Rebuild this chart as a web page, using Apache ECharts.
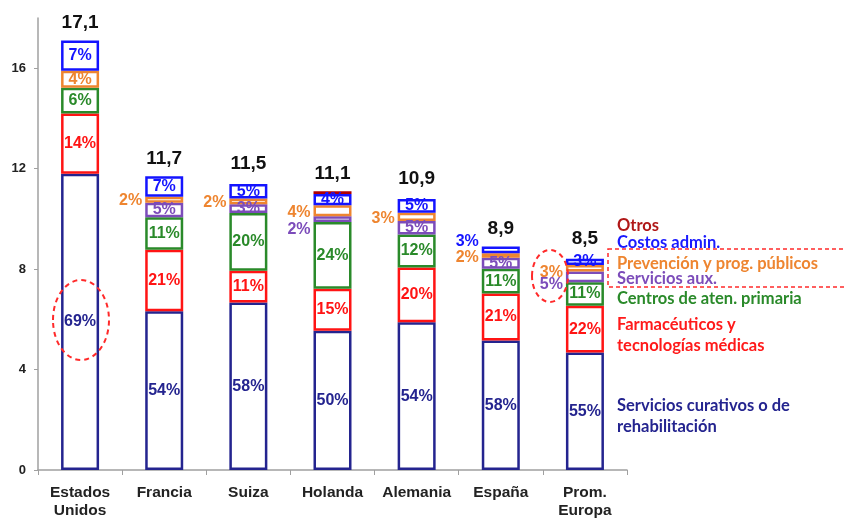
<!DOCTYPE html>
<html>
<head>
<meta charset="utf-8">
<script src="https://cdn.jsdelivr.net/npm/echarts@6/dist/echarts.min.js"></script>
<style>
  html, body { margin: 0; padding: 0; background: #ffffff; }
  #chart { width: 846px; height: 518px; }
</style>
</head>
<body>
<div id="chart"></div>
<script>
// Health spending per country (total) and its breakdown by function (% of total)
const categories = ['Estados\nUnidos', 'Francia', 'Suiza', 'Holanda', 'Alemania', 'España', 'Prom.\nEuropa'];
const totals = [17.1, 11.7, 11.5, 11.1, 10.9, 8.9, 8.5];

const curativos        = [69, 54, 58, 50, 54, 58, 55];
const farmaceuticos    = [14, 21, 11, 15, 20, 21, 22];
const atencionPrimaria = [6, 11, 20, 24, 12, 11, 11];
const serviciosAux     = [null, 5, 3, 2, 5, 5, 5];
const prevencion       = [4, 2, 2, 4, 3, 2, 3];
const costosAdmin      = [7, 7, 5, 4, 5, 3, 3];
const otros            = [null, null, null, 1, null, null, null];

const yTicks = [0, 4, 8, 12, 16];

const FONT = '"Liberation Sans", Arial, sans-serif';
const NOTE_FONT = 'Lato, "Open Sans", sans-serif';

// Segment definitions (stack order bottom -> top)
const segments = [
  { name: 'Servicios curativos o de rehabilitación', pct: curativos,        color: '#24248f' },
  { name: 'Farmacéuticos y tecnologías médicas',     pct: farmaceuticos,    color: '#ff1414' },
  { name: 'Centros de aten. primaria',               pct: atencionPrimaria, color: '#2a8a2a' },
  { name: 'Servicios aux.',                          pct: serviciosAux,     color: '#7c4cba' },
  { name: 'Prevención y prog. públicos',             pct: prevencion,       color: '#ee8530' },
  { name: 'Costos admin.',                           pct: costosAdmin,      color: '#1414ff' },
  { name: 'Otros',                                   pct: otros,            color: '#b00000' }
];

// Labels of thin segments that sit beside the bar: [segment index, category index, vertical offset]
const sideLabels = [
  [4, 1, 1], [4, 2, 1], [4, 3, 2], [4, 4, 2], [4, 5, 2], [4, 6, 4],
  [3, 3, 10], [3, 6, 8],
  [5, 5, -8]
];
const hiddenLabels = [[6, 3]];

function labelFor(si, ci) {
  if (hiddenLabels.some(h => h[0] === si && h[1] === ci)) return { show: false };
  const side = sideLabels.find(s => s[0] === si && s[1] === ci);
  if (side) return { position: 'left', distance: 3, offset: [0, side[2]] };
  return null;
}

const BAR_W = 38;

const series = segments.map((seg, si) => ({
  name: seg.name,
  type: 'bar',
  stack: 'gasto',
  barWidth: BAR_W,
  data: seg.pct.map((p, ci) => {
    if (p === null) return '-';
    const item = { value: +(totals[ci] * p / 100).toFixed(4), pct: p };
    const l = labelFor(si, ci);
    if (l) item.label = l;
    return item;
  }),
  itemStyle: { color: '#ffffff', borderColor: seg.color, borderWidth: 2.5 },
  label: {
    show: true,
    position: 'inside',
    color: seg.color,
    fontFamily: FONT,
    fontWeight: 'bold',
    fontSize: 16,
    formatter: p => p.data.pct + '%'
  },
  emphasis: { disabled: true }
}));

// Totals written above each bar
series.push({
  name: 'Total',
  type: 'bar',
  barWidth: BAR_W,
  barGap: '-100%',
  silent: true,
  z: 1,
  data: totals,
  itemStyle: { color: 'rgba(0,0,0,0)' },
  label: {
    show: true,
    position: 'top',
    distance: 8,
    color: '#111111',
    fontFamily: FONT,
    fontWeight: 'bold',
    fontSize: 19,
    formatter: p => p.value.toFixed(1).replace('.', ',')
  }
});

// Notes naming each segment, to the right of the plot
const notes = [
  { lines: ['Otros'], y: 224, color: '#b01818' },
  { lines: ['Costos admin.'], y: 241, color: '#1a1aff' },
  { lines: ['Prevención y prog. públicos'], y: 262, color: '#ee8530' },
  { lines: ['Servicios aux.'], y: 277, color: '#7c4cba' },
  { lines: ['Centros de aten. primaria'], y: 297, color: '#2a8a2a' },
  { lines: ['Farmacéuticos y', 'tecnologías médicas'], y: 323, color: '#ff1a1a' },
  { lines: ['Servicios curativos o de', 'rehabilitación'], y: 404, color: '#24248f' }
];

const graphic = [];
notes.forEach(n => {
  n.lines.forEach((t, k) => {
    graphic.push({
      type: 'text',
      left: 617,
      top: n.y - 7 + k * 21.5,
      style: { text: t, fill: n.color, font: 'bold 16.5px ' + NOTE_FONT }
    });
  });
});

// Dashed highlight marks
const dash = { fill: 'none', stroke: '#ff2a2a', lineWidth: 2, lineDash: [5, 4] };
graphic.push({ type: 'ellipse', shape: { cx: 81, cy: 320, rx: 28, ry: 40 }, style: dash, z: 100 });
graphic.push({ type: 'ellipse', shape: { cx: 550, cy: 276, rx: 18, ry: 26 }, style: dash, z: 100 });
graphic.push({ type: 'rect', shape: { x: 608, y: 249, width: 260, height: 38 },
  style: Object.assign({}, dash, { lineWidth: 1.5, lineDash: [4, 3] }), z: 100 });

const chart = echarts.init(document.getElementById('chart'), null, { renderer: 'canvas' });
chart.setOption({
  animation: false,
  backgroundColor: '#ffffff',
  grid: { left: 38, right: 219, top: 18, bottom: 48, outerBoundsMode: 'none', containLabel: false },
  xAxis: {
    type: 'category',
    data: categories,
    axisLine: { lineStyle: { color: '#a0a0a0', width: 1.5 } },
    axisTick: { show: true, length: 5, lineStyle: { color: '#a0a0a0' } },
    axisLabel: {
      color: '#222222',
      fontFamily: FONT,
      fontWeight: 'bold',
      fontSize: 15.5,
      lineHeight: 18,
      margin: 14,
      interval: 0
    }
  },
  yAxis: {
    type: 'value',
    min: 0,
    max: 18,
    interval: 2,
    splitLine: { show: false },
    axisLine: { show: true, lineStyle: { color: '#a0a0a0', width: 1.5 } },
    axisTick: { show: true, length: 4, customValues: yTicks, lineStyle: { color: '#a0a0a0' } },
    axisLabel: {
      customValues: yTicks,
      color: '#222222',
      fontFamily: FONT,
      fontWeight: 'bold',
      fontSize: 13,
      margin: 12
    }
  },
  graphic: graphic,
  series: series
});
</script>
</body>
</html>
